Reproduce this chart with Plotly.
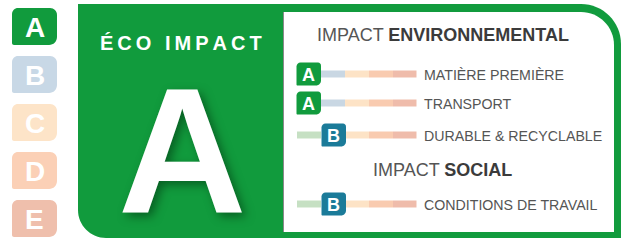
import plotly.graph_objects as go

# ---- data ----
scale = ["A", "B", "C", "D", "E"]
overall_grade = "A"
title_left = "ÉCO IMPACT"
section_env = ["IMPACT ", "ENVIRONNEMENTAL"]
section_soc = ["IMPACT ", "SOCIAL"]
env_criteria = ["MATIÈRE PREMIÈRE", "TRANSPORT", "DURABLE & RECYCLABLE"]
env_grades = ["A", "A", "B"]
soc_criteria = ["CONDITIONS DE TRAVAIL"]
soc_grades = ["B"]

# ---- styles ----
GREEN = "#119b3d"
TEAL = "#1b7b99"
badge_active = {"A": GREEN, "B": TEAL, "C": "#f3a557", "D": "#ec7b45", "E": "#d9583e"}
scale_pale = {"A": "#c6e0c3", "B": "#c8d8e6", "C": "#fde4c8", "D": "#fbd0b6", "E": "#efbfac"}
bar_pale = {"A": "#c6e0c3", "B": "#c9d7e3", "C": "#fde3c6", "D": "#f9cbb0", "E": "#efbcab"}
FONT = "Liberation Sans, Arial, sans-serif"
TXT = "#555555"
TXT_B = "#3b3b3b"

K = 0.5523


def rrect(x0, y0, x1, y1, tl=0, tr=0, br=0, bl=0):
    p = f"M {x0+tl},{y0} L {x1-tr},{y0} "
    if tr:
        p += f"C {x1-tr+tr*K},{y0} {x1},{y0+tr-tr*K} {x1},{y0+tr} "
    p += f"L {x1},{y1-br} "
    if br:
        p += f"C {x1},{y1-br+br*K} {x1-br+br*K},{y1} {x1-br},{y1} "
    p += f"L {x0+bl},{y1} "
    if bl:
        p += f"C {x0+bl-bl*K},{y1} {x0},{y1-bl+bl*K} {x0},{y1-bl} "
    p += f"L {x0},{y0+tl} "
    if tl:
        p += f"C {x0},{y0+tl-tl*K} {x0+tl-tl*K},{y0} {x0+tl},{y0} "
    return p + "Z"


shapes = []
annotations = []


def shape(path, color, line=None):
    d = dict(type="path", path=path, xref="x", yref="y", fillcolor=color, layer="below",
             line=dict(width=0) if line is None else line)
    shapes.append(d)


def text(x, y, t, size, color, bold=False, xanchor="center", shadow=None, family=FONT):
    f = dict(family=family, size=size, color=color)
    if bold:
        f["weight"] = "bold"
    if shadow:
        f["shadow"] = shadow
    annotations.append(dict(x=x, y=y, xref="x", yref="y", text=t, showarrow=False,
                            xanchor=xanchor, yanchor="middle", font=f))


# left scale
for i, g in enumerate(scale):
    y0 = 8 + 48 * i
    col = badge_active[g] if g == overall_grade else scale_pale[g]
    shape(rrect(12, y0, 57, y0 + 37, tl=6, tr=7, br=8, bl=2), col)
    text(34.5, y0 + 19.5, g, 28, "white", bold=True)

# main green panel
shape(rrect(78, 4, 621, 238, tl=0, tr=40, br=0, bl=28), GREEN)
# white panel
shape(rrect(283, 12, 614, 232, tl=0, tr=33, br=0, bl=0), "white")
shapes.append(dict(type="line", x0=283.5, x1=283.5, y0=12, y1=232, xref="x", yref="y",
                   line=dict(color="rgba(40,40,40,0.55)", width=1)))

thin = "\u2009"
text(181, 43, thin.join(title_left), 20, "white", bold=True)
text(182, 150, overall_grade, 178, "white", bold=True,
     shadow="4px 4px 10px rgba(0,50,15,0.55)")

# section headers
text(442.5, 35, f"{section_env[0]}<span style='font-weight:bold;color:{TXT_B}'>{section_env[1]}</span>",
     18, TXT)
text(442.5, 170, f"{section_soc[0]}<span style='font-weight:bold;color:{TXT_B}'>{section_soc[1]}</span>",
     18, TXT)

# criteria rows
SEG0, SEGW = 297, 24
rows = list(zip(env_criteria, env_grades, [74, 103, 135])) + \
    list(zip(soc_criteria, soc_grades, [204]))
for label, g, yc in rows:
    gi = scale.index(g)
    for i, s in enumerate(scale):
        if i == gi:
            continue
        x0 = SEG0 + SEGW * i
        shape(rrect(x0, yc - 3.5, x0 + SEGW + (0 if i < 4 else -0.5), yc + 3.5), bar_pale[s])
    bx = SEG0 + SEGW * gi
    shape(rrect(bx - 0.5 + gi, yc - 11.5, bx + 24 + gi, yc + 11.5, tl=4, tr=3, br=5, bl=1),
          badge_active[g])
    text(bx + 11.8 + gi, yc + 0.5, g, 18, "white", bold=True)
    text(422, yc + 0.5, label, 14.2, TXT, xanchor="left")

fig = go.Figure()
fig.add_trace(go.Scatter(x=[0, 626], y=[0, 240], mode="markers", marker=dict(opacity=0),
                         hoverinfo="skip", showlegend=False))
fig.update_layout(
    width=626, height=240, margin=dict(l=0, r=0, t=0, b=0),
    paper_bgcolor="white", plot_bgcolor="white",
    xaxis=dict(range=[0, 626], visible=False, fixedrange=True),
    yaxis=dict(range=[240, 0], visible=False, fixedrange=True),
    shapes=shapes, annotations=annotations, showlegend=False,
)
fig.write_html("out.html", config={"displayModeBar": False},
               post_script="document.body.style.margin='0';document.body.style.overflow='hidden';")
